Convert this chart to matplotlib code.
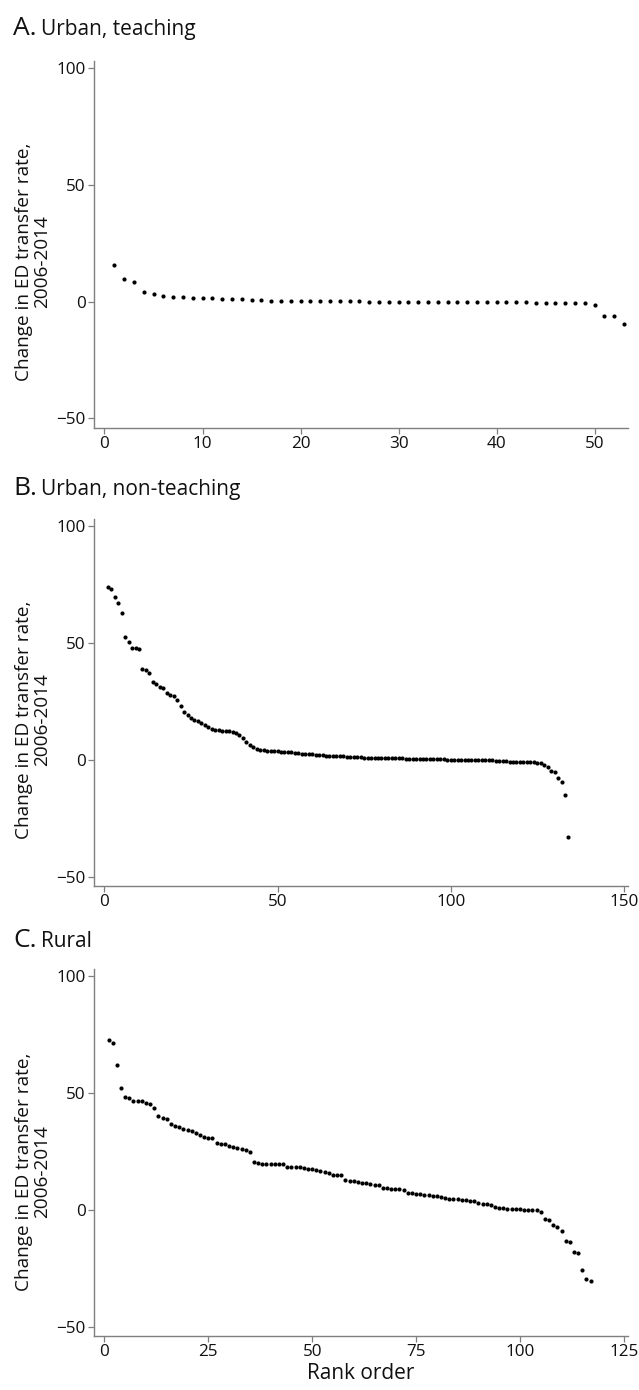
import matplotlib
matplotlib.use("Agg")
import matplotlib.pyplot as plt
import numpy as np

plt.rcParams['font.family'] = ['Open Sans', 'DejaVu Sans']

# ---------------- data ----------------
urban_teaching = [15.8, 9.7, 8.3, 4.0, 3.2, 2.4, 2.1, 2.0, 1.8, 1.6,
                  1.4, 1.2, 1.1, 1.0, 0.7, 0.6, 0.5, 0.4, 0.3, 0.3,
                  0.2, 0.2, 0.2, 0.1, 0.1, 0.1, 0.0, 0.0, 0.0, -0.1,
                  -0.1, -0.1, -0.1, -0.2, -0.2, -0.2, -0.2, -0.2, -0.3, -0.3,
                  -0.3, -0.3, -0.3, -0.4, -0.4, -0.4, -0.4, -0.5, -0.5, -1.3,
                  -6.1, -6.2, -9.5]

urban_nonteaching = [74.1, 72.9, 69.7, 67.0, 63.0, 52.4, 50.3, 48.0, 47.7, 47.6,
                     39.0, 38.5, 37.3, 33.2, 32.3, 31.3, 30.6, 28.5, 27.5, 27.2,
                     25.5, 23.0, 20.5, 19.2, 18.0, 17.0, 16.5, 15.6, 14.8, 14.0,
                     13.2, 12.9, 12.6, 12.4, 12.3, 12.2, 12.0, 11.6, 10.8, 9.5,
                     7.8, 6.5, 5.6, 4.8, 4.2, 4.0, 3.8, 3.7, 3.7, 3.6,
                     3.5, 3.4, 3.3, 3.2, 3.0, 2.8, 2.6, 2.5, 2.4, 2.3,
                     2.2, 2.1, 2.0, 1.8, 1.7, 1.6, 1.5, 1.5, 1.4, 1.3,
                     1.3, 1.2, 1.1, 1.0, 0.95, 0.9, 0.85, 0.8, 0.8, 0.75,
                     0.7, 0.7, 0.65, 0.6, 0.6, 0.55, 0.5, 0.5, 0.45, 0.4,
                     0.4, 0.35, 0.3, 0.3, 0.25, 0.2, 0.2, 0.15, 0.1, 0.1,
                     0.05, 0.0, 0.0, -0.05, -0.1, -0.1, -0.15, -0.2, -0.2, -0.25,
                     -0.3, -0.3, -0.35, -0.4, -0.45, -0.5, -0.8, -0.9, -1.0, -1.0,
                     -1.05, -1.1, -1.1, -1.15, -1.2, -1.4, -2.1, -3.3, -4.6, -5.1,
                     -7.8, -9.3, -15.1, -33.0]

rural = [72.8, 71.4, 61.8, 51.9, 48.4, 47.8, 46.7, 46.7, 46.4, 45.8,
         45.4, 43.4, 40.1, 39.4, 38.7, 36.5, 35.7, 35.2, 34.5, 34.0,
         33.6, 33.0, 32.1, 31.2, 30.6, 30.6, 28.5, 28.2, 28.0, 27.4,
         26.9, 26.5, 26.0, 25.4, 24.7, 20.4, 20.2, 19.7, 19.5, 19.4,
         19.4, 19.4, 19.4, 18.4, 18.3, 18.3, 18.1, 17.9, 17.6, 17.4,
         16.9, 16.5, 16.0, 15.6, 15.0, 14.9, 14.8, 12.6, 12.5, 12.4,
         11.8, 11.6, 11.3, 11.0, 10.8, 10.5, 9.4, 9.2, 9.0, 8.9,
         8.7, 8.5, 7.2, 7.0, 6.8, 6.6, 6.5, 6.3, 6.0, 5.8,
         5.5, 5.2, 4.8, 4.6, 4.4, 4.3, 4.1, 3.9, 3.7, 2.9,
         2.6, 2.3, 2.0, 1.0, 0.8, 0.6, 0.5, 0.4, 0.3, 0.2,
         0.1, 0.0, -0.1, -0.3, -1.1, -4.1, -4.3, -6.7, -7.5, -8.9,
         -13.2, -13.9, -18.0, -18.4, -25.8, -29.6, -30.6]

panel_letters = ["A.", "B.", "C."]
panel_names = ["Urban, teaching", "Urban, non-teaching", "Rural"]
series = [urban_teaching, urban_nonteaching, rural]
x_ticks = [[0, 10, 20, 30, 40, 50], [0, 50, 100, 150], [0, 25, 50, 75, 100, 125]]
x_limits = [(-1.07, 53.4), (-3.0, 151.2), (-2.5, 126.0)]
y_ticks = [-50, 0, 50, 100]
y_label = "Change in ED transfer rate,\n2006-2014"
x_label = "Rank order"

# ---------------- layout (pixels) ----------------
W, H = 639, 1390
fig = plt.figure(figsize=(W / 100, H / 100), dpi=100)

axes_left, axes_right = 94, 628
axes_tops = [61.4, 519, 969]
axes_bottoms = [427.7, 886, 1336]
title_baselines = [35, 495, 947]
ylabel_centers = [262, 720, 1172]

grey = "#7f7f7f"

for i in range(3):
    top, bottom = axes_tops[i], axes_bottoms[i]
    ax = fig.add_axes([axes_left / W, 1 - bottom / H,
                       (axes_right - axes_left) / W, (bottom - top) / H])
    vals = series[i]
    ranks = np.arange(1, len(vals) + 1)
    ax.plot(ranks, vals, linestyle="none", marker="o", markersize=3.0,
            color="black", markeredgewidth=0)
    ax.set_xlim(*x_limits[i])
    ax.set_ylim(-54, 103)
    ax.set_xticks(x_ticks[i])
    ax.set_yticks(y_ticks)
    for s in ["top", "right"]:
        ax.spines[s].set_visible(False)
    for s in ["left", "bottom"]:
        ax.spines[s].set_color(grey)
        ax.spines[s].set_linewidth(1.0)
    ax.tick_params(direction="out", length=4, width=0.9, color=grey,
                   labelsize=12.3, labelcolor="#111111", pad=2)
    ax.patch.set_alpha(0)

    fig.text(13 / W, 1 - title_baselines[i] / H, panel_letters[i],
             fontsize=19, va="baseline", ha="left", color="#111111")
    fig.text(41 / W, 1 - title_baselines[i] / H, panel_names[i],
             fontsize=15, va="baseline", ha="left", color="#111111")
    fig.text(33 / W, 1 - ylabel_centers[i] / H, y_label, rotation=90,
             fontsize=13.7, va="center", ha="center", multialignment="center",
             color="#111111", linespacing=1.0)
    if i == 2:
        ax.set_xlabel(x_label, fontsize=15, color="#111111", labelpad=2)

fig.savefig("out.png", dpi=100, facecolor="white")
